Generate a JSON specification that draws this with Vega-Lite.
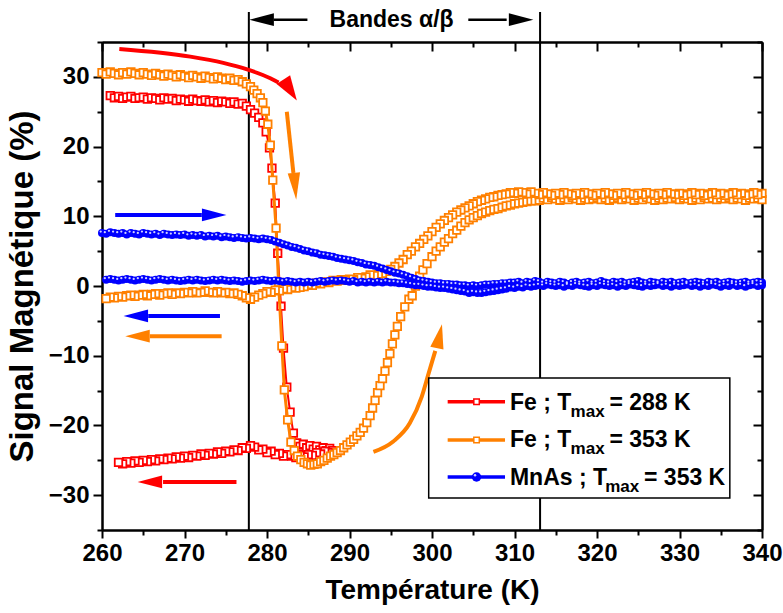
{
"$schema":"https://vega.github.io/schema/vega-lite/v6.json",
"width":660,"height":488,
"autosize":{"type":"none"},
"padding":{"left":102,"top":42,"right":21,"bottom":83},
"background":"white",
"config":{"view":{"stroke":null},"font":"Liberation Sans",
"axis":{"domainColor":"black","domainWidth":2,"tickColor":"black","tickWidth":2,"grid":false,"labelFont":"Liberation Sans","labelFontSize":24,"labelFontWeight":"bold","labelColor":"black","titleFont":"Liberation Sans","titleFontWeight":"bold","titleColor":"black","labelFlush":false,"labelOverlap":false,"zindex":1}},
"datasets":{
"rh":[{"x":261,"y":27.3},{"x":261.5,"y":27},{"x":262,"y":27.2},{"x":262.5,"y":26.9},{"x":263,"y":27.1},{"x":263.5,"y":27.2},{"x":264,"y":26.9},{"x":264.5,"y":27},{"x":265,"y":27.1},{"x":265.5,"y":26.8},{"x":266,"y":27},{"x":266.5,"y":26.9},{"x":267,"y":26.7},{"x":267.5,"y":27},{"x":268,"y":26.8},{"x":268.5,"y":26.9},{"x":269,"y":26.6},{"x":269.5,"y":26.8},{"x":270,"y":26.7},{"x":270.5,"y":26.5},{"x":271,"y":26.8},{"x":271.5,"y":26.6},{"x":272,"y":26.5},{"x":272.5,"y":26.7},{"x":273,"y":26.4},{"x":273.5,"y":26.6},{"x":274,"y":26.3},{"x":274.5,"y":26.5},{"x":275,"y":26.4},{"x":275.5,"y":26.2},{"x":276,"y":26.4},{"x":276.5,"y":26.1},{"x":277,"y":26.2},{"x":277.5,"y":25.8},{"x":278,"y":25.3},{"x":278.5,"y":24.8},{"x":279,"y":24.2},{"x":279.5,"y":23.4},{"x":279.9,"y":22.1},{"x":280.3,"y":19.8},{"x":280.6,"y":16.9},{"x":281,"y":11.9},{"x":281.3,"y":4.7},{"x":281.7,"y":-2.9},{"x":282,"y":-8.9},{"x":282.4,"y":-14.5},{"x":282.8,"y":-18.1},{"x":283.2,"y":-21.1},{"x":283.6,"y":-22.5},{"x":284,"y":-23},{"x":284.4,"y":-22.7},{"x":284.8,"y":-23.2},{"x":285.2,"y":-22.9},{"x":285.6,"y":-23.4},{"x":286,"y":-23},{"x":286.4,"y":-23.5},{"x":286.8,"y":-23.2},{"x":287.2,"y":-23.6},{"x":287.6,"y":-23.3},{"x":288,"y":-23.6}],
"rc":[{"x":288,"y":-23.6},{"x":287.5,"y":-23.9},{"x":287,"y":-23.7},{"x":286.5,"y":-24.1},{"x":286,"y":-23.9},{"x":285.5,"y":-24.3},{"x":285,"y":-24.2},{"x":284.5,"y":-24.5},{"x":284,"y":-24.3},{"x":283.5,"y":-24.6},{"x":283,"y":-24.4},{"x":282.5,"y":-24.2},{"x":282,"y":-24.4},{"x":281.5,"y":-24},{"x":281,"y":-24.2},{"x":280.5,"y":-23.7},{"x":280,"y":-23.9},{"x":279.5,"y":-23.4},{"x":279,"y":-23.5},{"x":278.5,"y":-23.1},{"x":278,"y":-22.9},{"x":277.5,"y":-23.3},{"x":277,"y":-23.2},{"x":276.5,"y":-23.6},{"x":276,"y":-23.5},{"x":275.5,"y":-23.8},{"x":275,"y":-23.7},{"x":274.5,"y":-24},{"x":274,"y":-23.8},{"x":273.5,"y":-24.1},{"x":273,"y":-24},{"x":272.5,"y":-24.3},{"x":272,"y":-24.1},{"x":271.5,"y":-24.4},{"x":271,"y":-24.3},{"x":270.5,"y":-24.6},{"x":270,"y":-24.4},{"x":269.5,"y":-24.7},{"x":269,"y":-24.5},{"x":268.5,"y":-24.8},{"x":268,"y":-24.7},{"x":267.5,"y":-24.9},{"x":267,"y":-24.8},{"x":266.5,"y":-25.1},{"x":266,"y":-24.9},{"x":265.5,"y":-25.2},{"x":265,"y":-25},{"x":264.5,"y":-25.3},{"x":264,"y":-25.1},{"x":263.5,"y":-25.4},{"x":263,"y":-25.2},{"x":262.5,"y":-25.5},{"x":262,"y":-25.3}],
"oh":[{"x":260,"y":30.6},{"x":260.5,"y":30.4},{"x":261,"y":30.7},{"x":261.5,"y":30.5},{"x":262,"y":30.3},{"x":262.5,"y":30.6},{"x":263,"y":30.4},{"x":263.5,"y":30.7},{"x":264,"y":30.5},{"x":264.5,"y":30.3},{"x":265,"y":30.6},{"x":265.5,"y":30.4},{"x":266,"y":30.2},{"x":266.5,"y":30.5},{"x":267,"y":30.3},{"x":267.5,"y":30.1},{"x":268,"y":30.4},{"x":268.5,"y":30.2},{"x":269,"y":30},{"x":269.5,"y":30.3},{"x":270,"y":30.1},{"x":270.5,"y":29.9},{"x":271,"y":30.2},{"x":271.5,"y":30},{"x":272,"y":29.8},{"x":272.5,"y":30.1},{"x":273,"y":29.9},{"x":273.5,"y":29.7},{"x":274,"y":30},{"x":274.5,"y":29.8},{"x":275,"y":29.6},{"x":275.5,"y":29.8},{"x":276,"y":29.5},{"x":276.5,"y":29.6},{"x":277,"y":29.3},{"x":277.5,"y":29},{"x":278,"y":28.6},{"x":278.4,"y":28.1},{"x":278.8,"y":27.6},{"x":279.2,"y":27},{"x":279.5,"y":26.3},{"x":279.8,"y":25.1},{"x":280.1,"y":23.2},{"x":280.4,"y":20.2},{"x":280.7,"y":15.2},{"x":281.1,"y":8.3},{"x":281.4,"y":0.5},{"x":281.8,"y":-8.6},{"x":282.1,"y":-14.9},{"x":282.5,"y":-19.2},{"x":282.9,"y":-22.4},{"x":283.3,"y":-23.6},{"x":283.7,"y":-24.4},{"x":284.1,"y":-24.9},{"x":284.5,"y":-25.3},{"x":284.9,"y":-25.5},{"x":285.3,"y":-25.7},{"x":285.7,"y":-25.6},{"x":286.1,"y":-25.5},{"x":286.5,"y":-25.2},{"x":286.9,"y":-25},{"x":287.3,"y":-24.7},{"x":287.7,"y":-24.4},{"x":288.1,"y":-24.2},{"x":288.5,"y":-23.9},{"x":288.9,"y":-23.6},{"x":289.3,"y":-23.2},{"x":289.7,"y":-22.8},{"x":290.1,"y":-22.4},{"x":290.5,"y":-22},{"x":290.9,"y":-21.5},{"x":291.3,"y":-21},{"x":291.7,"y":-20.4},{"x":292.1,"y":-19.6},{"x":292.5,"y":-18.6},{"x":292.8,"y":-17.5},{"x":293.1,"y":-16.4},{"x":293.4,"y":-15.3},{"x":293.7,"y":-14.3},{"x":294,"y":-13.3},{"x":294.3,"y":-12.2},{"x":294.6,"y":-11},{"x":294.9,"y":-9.7},{"x":295.2,"y":-8.3},{"x":295.5,"y":-7},{"x":295.8,"y":-5.8},{"x":296.2,"y":-4.4},{"x":296.7,"y":-3},{"x":297.2,"y":-1.9},{"x":297.6,"y":-1.4},{"x":298,"y":0},{"x":298.5,"y":1.4},{"x":298.9,"y":2.3},{"x":299.4,"y":3.2},{"x":300,"y":4.2},{"x":300.5,"y":5},{"x":301,"y":5.6},{"x":301.5,"y":6.3},{"x":302,"y":6.8},{"x":302.5,"y":7.5},{"x":303,"y":8},{"x":303.5,"y":8.6},{"x":304,"y":9.1},{"x":304.5,"y":9.5},{"x":305,"y":9.8},{"x":305.5,"y":10.1},{"x":306,"y":10.4},{"x":306.5,"y":10.6},{"x":307,"y":10.8},{"x":307.5,"y":11},{"x":308,"y":11.1},{"x":308.5,"y":11.3},{"x":309,"y":11.5},{"x":309.5,"y":11.6},{"x":310,"y":11.8},{"x":310.5,"y":11.9},{"x":311,"y":12},{"x":311.5,"y":12.1},{"x":312,"y":12.2},{"x":312.5,"y":12.2},{"x":313,"y":12.3},{"x":313.5,"y":12.6},{"x":314,"y":12.4},{"x":314.5,"y":12.7},{"x":315,"y":12.5},{"x":315.5,"y":12.3},{"x":316,"y":12.6},{"x":316.5,"y":12.4},{"x":317,"y":12.7},{"x":317.5,"y":12.5},{"x":318,"y":12.3},{"x":318.5,"y":12.6},{"x":319,"y":12.4},{"x":319.5,"y":12.5},{"x":320,"y":12.7},{"x":320.5,"y":12.4},{"x":321,"y":12.6},{"x":321.5,"y":12.3},{"x":322,"y":12.5},{"x":322.5,"y":12.7},{"x":323,"y":12.4},{"x":323.5,"y":12.6},{"x":324,"y":12.5},{"x":324.5,"y":12.3},{"x":325,"y":12.6},{"x":325.5,"y":12.4},{"x":326,"y":12.7},{"x":326.5,"y":12.5},{"x":327,"y":12.3},{"x":327.5,"y":12.6},{"x":328,"y":12.4},{"x":328.5,"y":12.6},{"x":329,"y":12.5},{"x":329.5,"y":12.7},{"x":330,"y":12.4},{"x":330.5,"y":12.6},{"x":331,"y":12.5},{"x":331.5,"y":12.3},{"x":332,"y":12.6},{"x":332.5,"y":12.4},{"x":333,"y":12.7},{"x":333.5,"y":12.5},{"x":334,"y":12.6},{"x":334.5,"y":12.4},{"x":335,"y":12.6},{"x":335.5,"y":12.5},{"x":336,"y":12.7},{"x":336.5,"y":12.4},{"x":337,"y":12.6},{"x":337.5,"y":12.5},{"x":338,"y":12.3},{"x":338.5,"y":12.6},{"x":339,"y":12.5},{"x":339.5,"y":12.6},{"x":340,"y":12.4}],
"oc":[{"x":340,"y":13.3},{"x":339.5,"y":13.1},{"x":339,"y":13.4},{"x":338.5,"y":13.2},{"x":338,"y":13},{"x":337.5,"y":13.3},{"x":337,"y":13.1},{"x":336.5,"y":13.4},{"x":336,"y":13.2},{"x":335.5,"y":13},{"x":335,"y":13.3},{"x":334.5,"y":13.1},{"x":334,"y":13.4},{"x":333.5,"y":13.2},{"x":333,"y":13},{"x":332.5,"y":13.3},{"x":332,"y":13.1},{"x":331.5,"y":13.4},{"x":331,"y":13.2},{"x":330.5,"y":13},{"x":330,"y":13.3},{"x":329.5,"y":13.1},{"x":329,"y":13.2},{"x":328.5,"y":13.4},{"x":328,"y":13.1},{"x":327.5,"y":13.3},{"x":327,"y":13},{"x":326.5,"y":13.2},{"x":326,"y":13.4},{"x":325.5,"y":13.1},{"x":325,"y":13.3},{"x":324.5,"y":13},{"x":324,"y":13.2},{"x":323.5,"y":13.4},{"x":323,"y":13.1},{"x":322.5,"y":13.3},{"x":322,"y":13},{"x":321.5,"y":13.2},{"x":321,"y":13.4},{"x":320.5,"y":13.1},{"x":320,"y":13.3},{"x":319.5,"y":13},{"x":319,"y":13.2},{"x":318.5,"y":13.4},{"x":318,"y":13.1},{"x":317.5,"y":13.3},{"x":317,"y":13},{"x":316.5,"y":13.2},{"x":316,"y":13.4},{"x":315.5,"y":13.1},{"x":315,"y":13.3},{"x":314.5,"y":13},{"x":314,"y":13.2},{"x":313.5,"y":13.4},{"x":313,"y":13.1},{"x":312.5,"y":13.3},{"x":312,"y":13.5},{"x":311.5,"y":13.2},{"x":311,"y":13.4},{"x":310.5,"y":13.5},{"x":310,"y":13.3},{"x":309.5,"y":13.4},{"x":309,"y":13.2},{"x":308.5,"y":13.1},{"x":308,"y":13},{"x":307.5,"y":12.8},{"x":307,"y":12.7},{"x":306.5,"y":12.5},{"x":306,"y":12.3},{"x":305.5,"y":12.1},{"x":305,"y":11.8},{"x":304.5,"y":11.5},{"x":304,"y":11.2},{"x":303.5,"y":10.9},{"x":303,"y":10.6},{"x":302.5,"y":10.2},{"x":302,"y":9.8},{"x":301.5,"y":9.4},{"x":301,"y":8.9},{"x":300.5,"y":8.4},{"x":300,"y":7.8},{"x":299.5,"y":7.2},{"x":299,"y":6.7},{"x":298.5,"y":6.1},{"x":298,"y":5.6},{"x":297.5,"y":5},{"x":297,"y":4.5},{"x":296.5,"y":3.8},{"x":296,"y":3.3},{"x":295.5,"y":2.8},{"x":295,"y":2.4},{"x":294.5,"y":2.1},{"x":294,"y":1.8},{"x":293.5,"y":1.7},{"x":293,"y":1.5},{"x":292.5,"y":1.6},{"x":292,"y":1.3},{"x":291.5,"y":1.1},{"x":291,"y":1.2},{"x":290.5,"y":0.9},{"x":290,"y":1},{"x":289.5,"y":0.8},{"x":289,"y":0.9},{"x":288.5,"y":0.7},{"x":288,"y":0.8},{"x":287.5,"y":0.5},{"x":287,"y":0.6},{"x":286.5,"y":0.3},{"x":286,"y":0.4},{"x":285.5,"y":0.1},{"x":285,"y":0.2},{"x":284.5,"y":-0.1},{"x":284,"y":-0.2},{"x":283.5,"y":-0.3},{"x":283,"y":-0.2},{"x":282.5,"y":-0.5},{"x":282,"y":-0.4},{"x":281.5,"y":-0.7},{"x":281,"y":-0.6},{"x":280.5,"y":-0.9},{"x":280,"y":-0.8},{"x":279.5,"y":-1.1},{"x":279,"y":-1.3},{"x":278.5,"y":-1.6},{"x":278,"y":-1.9},{"x":277.5,"y":-1.7},{"x":277,"y":-1.4},{"x":276.5,"y":-1.2},{"x":276,"y":-1},{"x":275.5,"y":-1.1},{"x":275,"y":-0.9},{"x":274.5,"y":-1},{"x":274,"y":-0.8},{"x":273.5,"y":-1},{"x":273,"y":-0.9},{"x":272.5,"y":-0.7},{"x":272,"y":-0.9},{"x":271.5,"y":-1},{"x":271,"y":-0.8},{"x":270.5,"y":-1},{"x":270,"y":-0.9},{"x":269.5,"y":-1.1},{"x":269,"y":-1},{"x":268.5,"y":-1.2},{"x":268,"y":-1},{"x":267.5,"y":-1.1},{"x":267,"y":-1.3},{"x":266.5,"y":-1.1},{"x":266,"y":-1.2},{"x":265.5,"y":-1.4},{"x":265,"y":-1.2},{"x":264.5,"y":-1.3},{"x":264,"y":-1.5},{"x":263.5,"y":-1.3},{"x":263,"y":-1.4},{"x":262.5,"y":-1.6},{"x":262,"y":-1.5},{"x":261.5,"y":-1.7},{"x":261,"y":-1.6},{"x":260.5,"y":-1.8}],
"bh":[{"x":260,"y":7.6},{"x":260.5,"y":7.5},{"x":261,"y":7.7},{"x":261.5,"y":7.6},{"x":262,"y":7.5},{"x":262.5,"y":7.6},{"x":263,"y":7.4},{"x":263.5,"y":7.6},{"x":264,"y":7.5},{"x":264.5,"y":7.4},{"x":265,"y":7.6},{"x":265.5,"y":7.5},{"x":266,"y":7.4},{"x":266.5,"y":7.5},{"x":267,"y":7.3},{"x":267.5,"y":7.5},{"x":268,"y":7.4},{"x":268.5,"y":7.3},{"x":269,"y":7.4},{"x":269.5,"y":7.3},{"x":270,"y":7.4},{"x":270.5,"y":7.2},{"x":271,"y":7.3},{"x":271.5,"y":7.2},{"x":272,"y":7.3},{"x":272.5,"y":7.1},{"x":273,"y":7.2},{"x":273.5,"y":7.1},{"x":274,"y":7.2},{"x":274.5,"y":7},{"x":275,"y":7.1},{"x":275.5,"y":7},{"x":276,"y":6.9},{"x":276.5,"y":7},{"x":277,"y":6.9},{"x":277.5,"y":6.8},{"x":278,"y":6.9},{"x":278.5,"y":6.8},{"x":279,"y":6.7},{"x":279.5,"y":6.8},{"x":280,"y":6.7},{"x":280.5,"y":6.6},{"x":281,"y":6.4},{"x":281.5,"y":6.2},{"x":282,"y":6},{"x":282.5,"y":5.8},{"x":283,"y":5.6},{"x":283.5,"y":5.5},{"x":284,"y":5.3},{"x":284.5,"y":5.1},{"x":285,"y":5},{"x":285.5,"y":4.8},{"x":286,"y":4.7},{"x":286.5,"y":4.5},{"x":287,"y":4.4},{"x":287.5,"y":4.3},{"x":288,"y":4.2},{"x":288.5,"y":4},{"x":289,"y":3.9},{"x":289.5,"y":3.8},{"x":290,"y":3.7},{"x":290.5,"y":3.6},{"x":291,"y":3.4},{"x":291.5,"y":3.3},{"x":292,"y":3.1},{"x":292.5,"y":3},{"x":293,"y":2.9},{"x":293.5,"y":2.7},{"x":294,"y":2.5},{"x":294.5,"y":2.3},{"x":295,"y":2.1},{"x":295.5,"y":1.9},{"x":296,"y":1.8},{"x":296.5,"y":1.6},{"x":297,"y":1.4},{"x":297.5,"y":1.2},{"x":298,"y":1},{"x":298.5,"y":0.8},{"x":299,"y":0.7},{"x":299.5,"y":0.6},{"x":300,"y":0.5},{"x":300.5,"y":0.4},{"x":301,"y":0.4},{"x":301.5,"y":0.3},{"x":302,"y":0.3},{"x":302.5,"y":0.2},{"x":303,"y":0.2},{"x":303.5,"y":0.1},{"x":304,"y":0.1},{"x":304.5,"y":0},{"x":305,"y":0.1},{"x":305.5,"y":0},{"x":306,"y":0.1},{"x":306.5,"y":0.2},{"x":307,"y":0.2},{"x":307.5,"y":0.3},{"x":308,"y":0.3},{"x":308.5,"y":0.4},{"x":309,"y":0.4},{"x":309.5,"y":0.5},{"x":310,"y":0.5},{"x":310.5,"y":0.6},{"x":311,"y":0.4},{"x":311.5,"y":0.6},{"x":312,"y":0.5},{"x":312.5,"y":0.7},{"x":313,"y":0.6},{"x":313.5,"y":0.4},{"x":314,"y":0.6},{"x":314.5,"y":0.5},{"x":315,"y":0.4},{"x":315.5,"y":0.6},{"x":316,"y":0.5},{"x":316.5,"y":0.3},{"x":317,"y":0.5},{"x":317.5,"y":0.6},{"x":318,"y":0.4},{"x":318.5,"y":0.5},{"x":319,"y":0.6},{"x":319.5,"y":0.4},{"x":320,"y":0.5},{"x":320.5,"y":0.7},{"x":321,"y":0.5},{"x":321.5,"y":0.4},{"x":322,"y":0.6},{"x":322.5,"y":0.5},{"x":323,"y":0.6},{"x":323.5,"y":0.4},{"x":324,"y":0.5},{"x":324.5,"y":0.6},{"x":325,"y":0.7},{"x":325.5,"y":0.5},{"x":326,"y":0.4},{"x":326.5,"y":0.6},{"x":327,"y":0.5},{"x":327.5,"y":0.4},{"x":328,"y":0.6},{"x":328.5,"y":0.5},{"x":329,"y":0.6},{"x":329.5,"y":0.4},{"x":330,"y":0.5},{"x":330.5,"y":0.6},{"x":331,"y":0.4},{"x":331.5,"y":0.5},{"x":332,"y":0.6},{"x":332.5,"y":0.5},{"x":333,"y":0.4},{"x":333.5,"y":0.6},{"x":334,"y":0.5},{"x":334.5,"y":0.6},{"x":335,"y":0.4},{"x":335.5,"y":0.5},{"x":336,"y":0.6},{"x":336.5,"y":0.5},{"x":337,"y":0.4},{"x":337.5,"y":0.5},{"x":338,"y":0.6},{"x":338.5,"y":0.4},{"x":339,"y":0.5},{"x":339.5,"y":0.6},{"x":340,"y":0.5}],
"bc":[{"x":340,"y":0.1},{"x":339.5,"y":0},{"x":339,"y":0.2},{"x":338.5,"y":0.1},{"x":338,"y":-0.1},{"x":337.5,"y":0.1},{"x":337,"y":0},{"x":336.5,"y":0.2},{"x":336,"y":0},{"x":335.5,"y":0.1},{"x":335,"y":-0.1},{"x":334.5,"y":0.1},{"x":334,"y":0.2},{"x":333.5,"y":0},{"x":333,"y":0.1},{"x":332.5,"y":-0.1},{"x":332,"y":0.1},{"x":331.5,"y":0},{"x":331,"y":0.2},{"x":330.5,"y":0.1},{"x":330,"y":0},{"x":329.5,"y":0.1},{"x":329,"y":-0.1},{"x":328.5,"y":0.1},{"x":328,"y":0},{"x":327.5,"y":0.2},{"x":327,"y":0.1},{"x":326.5,"y":0},{"x":326,"y":0.1},{"x":325.5,"y":-0.1},{"x":325,"y":0},{"x":324.5,"y":0.1},{"x":324,"y":0.2},{"x":323.5,"y":0},{"x":323,"y":0.1},{"x":322.5,"y":-0.1},{"x":322,"y":0.1},{"x":321.5,"y":0},{"x":321,"y":0.1},{"x":320.5,"y":0.2},{"x":320,"y":0},{"x":319.5,"y":0.1},{"x":319,"y":-0.1},{"x":318.5,"y":0},{"x":318,"y":0.1},{"x":317.5,"y":0.2},{"x":317,"y":0},{"x":316.5,"y":0.1},{"x":316,"y":-0.1},{"x":315.5,"y":0.1},{"x":315,"y":0},{"x":314.5,"y":0.1},{"x":314,"y":0.2},{"x":313.5,"y":0},{"x":313,"y":0.1},{"x":312.5,"y":0},{"x":312,"y":-0.1},{"x":311.5,"y":0},{"x":311,"y":-0.2},{"x":310.5,"y":-0.1},{"x":310,"y":-0.3},{"x":309.5,"y":-0.2},{"x":309,"y":-0.4},{"x":308.5,"y":-0.5},{"x":308,"y":-0.6},{"x":307.5,"y":-0.7},{"x":307,"y":-0.8},{"x":306.5,"y":-0.9},{"x":306,"y":-1},{"x":305.5,"y":-1},{"x":305,"y":-0.9},{"x":304.5,"y":-1},{"x":304,"y":-0.8},{"x":303.5,"y":-0.7},{"x":303,"y":-0.6},{"x":302.5,"y":-0.5},{"x":302,"y":-0.4},{"x":301.5,"y":-0.3},{"x":301,"y":-0.3},{"x":300.5,"y":-0.2},{"x":300,"y":-0.1},{"x":299.5,"y":-0.1},{"x":299,"y":0},{"x":298.5,"y":0.1},{"x":298,"y":0.1},{"x":297.5,"y":0.2},{"x":297,"y":0.3},{"x":296.5,"y":0.4},{"x":296,"y":0.4},{"x":295.5,"y":0.5},{"x":295,"y":0.5},{"x":294.5,"y":0.6},{"x":294,"y":0.5},{"x":293.5,"y":0.6},{"x":293,"y":0.5},{"x":292.5,"y":0.6},{"x":292,"y":0.5},{"x":291.5,"y":0.6},{"x":291,"y":0.5},{"x":290.5,"y":0.7},{"x":290,"y":0.6},{"x":289.5,"y":0.7},{"x":289,"y":0.8},{"x":288.5,"y":0.7},{"x":288,"y":0.8},{"x":287.5,"y":0.7},{"x":287,"y":0.6},{"x":286.5,"y":0.7},{"x":286,"y":0.6},{"x":285.5,"y":0.5},{"x":285,"y":0.6},{"x":284.5,"y":0.5},{"x":284,"y":0.6},{"x":283.5,"y":0.5},{"x":283,"y":0.6},{"x":282.5,"y":0.7},{"x":282,"y":0.6},{"x":281.5,"y":0.7},{"x":281,"y":0.8},{"x":280.5,"y":0.7},{"x":280,"y":0.8},{"x":279.5,"y":0.9},{"x":279,"y":0.8},{"x":278.5,"y":0.7},{"x":278,"y":0.8},{"x":277.5,"y":0.7},{"x":277,"y":0.6},{"x":276.5,"y":0.7},{"x":276,"y":0.8},{"x":275.5,"y":0.7},{"x":275,"y":0.8},{"x":274.5,"y":0.9},{"x":274,"y":0.8},{"x":273.5,"y":0.9},{"x":273,"y":0.8},{"x":272.5,"y":0.7},{"x":272,"y":0.8},{"x":271.5,"y":0.9},{"x":271,"y":0.8},{"x":270.5,"y":0.9},{"x":270,"y":0.8},{"x":269.5,"y":0.7},{"x":269,"y":0.8},{"x":268.5,"y":0.9},{"x":268,"y":0.8},{"x":267.5,"y":0.9},{"x":267,"y":1},{"x":266.5,"y":0.9},{"x":266,"y":0.8},{"x":265.5,"y":0.9},{"x":265,"y":1},{"x":264.5,"y":0.9},{"x":264,"y":0.8},{"x":263.5,"y":0.9},{"x":263,"y":1},{"x":262.5,"y":0.9},{"x":262,"y":0.8},{"x":261.5,"y":0.9},{"x":261,"y":1},{"x":260.5,"y":0.9}]
},
"resolve":{"axis":{"x":"independent","y":"independent"}},
"encoding":{
"x":{"field":"x","type":"quantitative","scale":{"domain":[260,340],"nice":false,"zero":false},"axis":null},
"y":{"field":"y","type":"quantitative","scale":{"domain":[-35,35],"nice":false,"zero":false},"axis":null}
},
"layer":[
{"data":{"values":[{"x":277.8,"y":-35,"y2":39.3},{"x":313.1,"y":-35,"y2":39.3}]},"mark":{"type":"rule","color":"black","strokeWidth":2},"encoding":{"y2":{"field":"y2"}}},
{"data":{"values":[{"x":280.8,"x2":284.9,"y":38.2},{"x":304.4,"x2":309.05,"y":38.2}]},"mark":{"type":"rule","color":"black","strokeWidth":2.5},"encoding":{"x2":{"field":"x2"}}},
{"data":{"values":[{"x":295.1,"y":38.2,"t":"Bandes α/β"}]},"mark":{"type":"text","font":"Liberation Sans","fontWeight":"bold","fontSize":23,"align":"center","baseline":"middle","color":"black"},"encoding":{"text":{"field":"t"}}},
{"data":{"values":[{"c":"b","x":261.6,"x2":272.1,"y":10.2},{"c":"b","x":265.6,"x2":274.3,"y":-4.3},{"c":"o","x":265.8,"x2":274.5,"y":-7.2},{"c":"r","x":267.4,"x2":276.3,"y":-28.1}]},"mark":{"type":"rule","strokeWidth":4},"encoding":{"x2":{"field":"x2"},"color":{"field":"c","type":"nominal","scale":{"domain":["r","o","b","k"],"range":["#ff0000","#ff8000","#0000ff","#000000"]},"legend":null}}},
{"data":{"values":[{"x":282.4,"y":25.0,"x2":283.2,"y2":16.2}]},"mark":{"type":"rule","strokeWidth":4,"color":"#ff8000"},"encoding":{"x2":{"field":"x2"},"y2":{"field":"y2"}}},
{"data":{"values":[{"c":"r","x":262.1,"y":34.0},{"c":"r","x":270.7,"y":32.9},{"c":"r","x":274.7,"y":32.0},{"c":"r","x":277.5,"y":31.1},{"c":"r","x":280.4,"y":29.8},{"c":"r","x":281.4,"y":29.2},{"c":"o","x":292.9,"y":-23.8},{"c":"o","x":295.3,"y":-22.3},{"c":"o","x":297.3,"y":-19.7},{"c":"o","x":298.75,"y":-15.9},{"c":"o","x":299.6,"y":-12.5},{"c":"o","x":300.4,"y":-9.3}]},"mark":{"type":"line","strokeWidth":4,"interpolate":"monotone"},"encoding":{"color":{"field":"c","type":"nominal","scale":{"domain":["r","o","b","k"],"range":["#ff0000","#ff8000","#0000ff","#000000"]},"legend":null}}},
{"data":{"values":[{"c":"k","d":"left","x":279.35,"y":38.2},{"c":"k","d":"right","x":310.8,"y":38.2},{"c":"b","d":"right","x":273.6,"y":10.2},{"c":"b","d":"left","x":264.1,"y":-4.3},{"c":"o","d":"left","x":264.3,"y":-7.2},{"c":"r","d":"left","x":265.8,"y":-28.1}]},"mark":{"type":"point","filled":true,"opacity":1,"size":600,"shape":"M0,-1L0.52,1L-0.52,1Z"},"encoding":{"angle":{"field":"d","type":"nominal","scale":{"domain":["left","right"],"range":[270,90]}},"color":{"field":"c","type":"nominal","scale":{"domain":["r","o","b","k"],"range":["#ff0000","#ff8000","#0000ff","#000000"]},"legend":null}}},
{"data":{"values":[{"x":282.8,"y":28.1}]},"mark":{"type":"point","filled":true,"opacity":1,"size":615,"angle":147,"shape":"M0,-1L0.65,1L-0.65,1Z","color":"#ff0000"}},
{"data":{"values":[{"x":283.4,"y":14.3}]},"mark":{"type":"point","filled":true,"opacity":1,"size":729,"angle":175,"shape":"M0,-1L0.46,1L-0.46,1Z","color":"#ff8000"}},
{"data":{"values":[{"x":300.9,"y":-7.2}]},"mark":{"type":"point","filled":true,"opacity":1,"size":600,"angle":12,"shape":"M0,-1L0.55,1L-0.55,1Z","color":"#ff8000"}},
{"data":{"name":"rh"},"mark":{"type":"line","color":"#ff0000","strokeWidth":2},
 "encoding":{
 "x":{"field":"x","type":"quantitative","scale":{"domain":[260,340],"nice":false,"zero":false},"axis":{"orient":"bottom","values":[260,270,280,290,300,310,320,330,340],"tickSize":8,"labelPadding":3,"title":"Température (K)","titleFontSize":28,"titlePadding":11}},
 "y":{"field":"y","type":"quantitative","scale":{"domain":[-35,35],"nice":false,"zero":false},"axis":{"orient":"left","values":[-30,-20,-10,0,10,20,30],"tickSize":9,"labelPadding":4,"title":"Signal Magnétique (%)","titleFontSize":33,"titlePadding":9}}}},
{"data":{"name":"rh"},"mark":{"type":"point","shape":"square","filled":false,"fill":"white","fillOpacity":1,"opacity":1,"stroke":"#ff0000","strokeWidth":1.8,"size":56},
 "encoding":{
 "x":{"field":"x","type":"quantitative","scale":{"domain":[260,340],"nice":false,"zero":false},"axis":{"orient":"bottom","values":[265,275,285,295,305,315,325,335],"tickSize":5,"labels":false,"title":null}},
 "y":{"field":"y","type":"quantitative","scale":{"domain":[-35,35],"nice":false,"zero":false},"axis":{"orient":"left","values":[-35,-25,-15,-5,5,15,25,35],"tickSize":5,"labels":false,"title":null}}}},
{"data":{"name":"rc"},"mark":{"type":"line","color":"#ff0000","strokeWidth":2}},
{"data":{"name":"rc"},"mark":{"type":"point","shape":"square","filled":false,"fill":"white","fillOpacity":1,"opacity":1,"stroke":"#ff0000","strokeWidth":1.8,"size":56}},
{"data":{"name":"oh"},"mark":{"type":"line","color":"#ff8000","strokeWidth":3},
 "encoding":{
 "x":{"field":"x","type":"quantitative","scale":{"domain":[260,340],"nice":false,"zero":false},"axis":{"orient":"top","values":[260,270,280,290,300,310,320,330,340],"tickSize":-9,"labels":false,"title":null}},
 "y":{"field":"y","type":"quantitative","scale":{"domain":[-35,35],"nice":false,"zero":false},"axis":{"orient":"right","values":[-30,-20,-10,0,10,20,30],"tickSize":-9,"labels":false,"title":null}}}},
{"data":{"name":"oh"},"mark":{"type":"point","shape":"square","filled":false,"fill":"white","fillOpacity":1,"opacity":1,"stroke":"#ff8000","strokeWidth":1.8,"size":56},
 "encoding":{
 "x":{"field":"x","type":"quantitative","scale":{"domain":[260,340],"nice":false,"zero":false},"axis":{"orient":"top","values":[265,275,285,295,305,315,325,335],"tickSize":-5,"labels":false,"title":null}},
 "y":{"field":"y","type":"quantitative","scale":{"domain":[-35,35],"nice":false,"zero":false},"axis":{"orient":"right","values":[-35,-25,-15,-5,5,15,25,35],"tickSize":-5,"labels":false,"title":null}}}},
{"data":{"name":"oc"},"mark":{"type":"line","color":"#ff8000","strokeWidth":3}},
{"data":{"name":"oc"},"mark":{"type":"point","shape":"square","filled":false,"fill":"white","fillOpacity":1,"opacity":1,"stroke":"#ff8000","strokeWidth":1.8,"size":56}},
{"data":{"name":"bh"},"mark":{"type":"line","color":"#0000ff","strokeWidth":2}},
{"data":{"name":"bc"},"mark":{"type":"line","color":"#0000ff","strokeWidth":2}},
{"data":{"name":"bh"},"mark":{"type":"point","shape":"circle","filled":true,"opacity":1,"color":"#0000ff","size":64}},
{"data":{"name":"bc"},"mark":{"type":"point","shape":"circle","filled":true,"opacity":1,"color":"#0000ff","size":64}},
{"data":{"name":"bh"},"mark":{"type":"point","shape":"circle","filled":true,"opacity":0.9,"color":"#e8e8ff","size":5,"xOffset":-1.3,"yOffset":-1.5}},
{"data":{"name":"bc"},"mark":{"type":"point","shape":"circle","filled":true,"opacity":0.9,"color":"#e8e8ff","size":5,"xOffset":-1.3,"yOffset":-1.5}},
{"data":{"values":[{"x":299.6,"x2":336.1,"y":-13.2,"y2":-30.4}]},"mark":{"type":"rect","fill":"white","stroke":"black","strokeWidth":1.5},"encoding":{"x2":{"field":"x2"},"y2":{"field":"y2"}}},
{"data":{"values":[{"c":"r","x":301.9,"x2":308.85,"y":-16.6},{"c":"o","x":301.9,"x2":308.85,"y":-22.1},{"c":"b","x":301.9,"x2":308.85,"y":-27.4}]},"mark":{"type":"rule","strokeWidth":3.5},"encoding":{"x2":{"field":"x2"},"color":{"field":"c","type":"nominal","scale":{"domain":["r","o","b","k"],"range":["#ff0000","#ff8000","#0000ff","#000000"]},"legend":null}}},
{"data":{"values":[{"c":"r","x":305.4,"y":-16.6},{"c":"o","x":305.4,"y":-22.1}]},"mark":{"type":"point","shape":"square","filled":false,"fill":"white","fillOpacity":1,"opacity":1,"strokeWidth":1.5,"size":30},"encoding":{"stroke":{"field":"c","type":"nominal","scale":{"domain":["r","o","b","k"],"range":["#ff0000","#ff8000","#0000ff","#000000"]},"legend":null}}},
{"data":{"values":[{"x":305.4,"y":-27.4}]},"mark":{"type":"point","shape":"circle","filled":true,"opacity":1,"color":"#0000ff","size":90}},
{"data":{"values":[{"x":305.4,"y":-27.4}]},"mark":{"type":"point","shape":"circle","filled":true,"opacity":0.9,"color":"#e8e8ff","size":6,"xOffset":-1.5,"yOffset":-1.8}},
{"data":{"values":[{"x":309.45,"y":-17.8,"t":"Fe ; T"},{"x":309.45,"y":-23.1,"t":"Fe ; T"},{"x":309.45,"y":-28.6,"t":"MnAs ; T"},{"x":321.5,"y":-17.8,"t":"= 288 K"},{"x":321.5,"y":-23.1,"t":"= 353 K"},{"x":325.7,"y":-28.6,"t":"= 353 K"}]},"mark":{"type":"text","font":"Liberation Sans","fontWeight":"bold","fontSize":23,"align":"left","baseline":"alphabetic","color":"black"},"encoding":{"text":{"field":"t"}}},
{"data":{"values":[{"x":316.8,"y":-18.8,"t":"max"},{"x":316.8,"y":-24.1,"t":"max"},{"x":321.0,"y":-29.6,"t":"max"}]},"mark":{"type":"text","font":"Liberation Sans","fontWeight":"bold","fontSize":17,"align":"left","baseline":"alphabetic","color":"black"},"encoding":{"text":{"field":"t"}}}
]
}
